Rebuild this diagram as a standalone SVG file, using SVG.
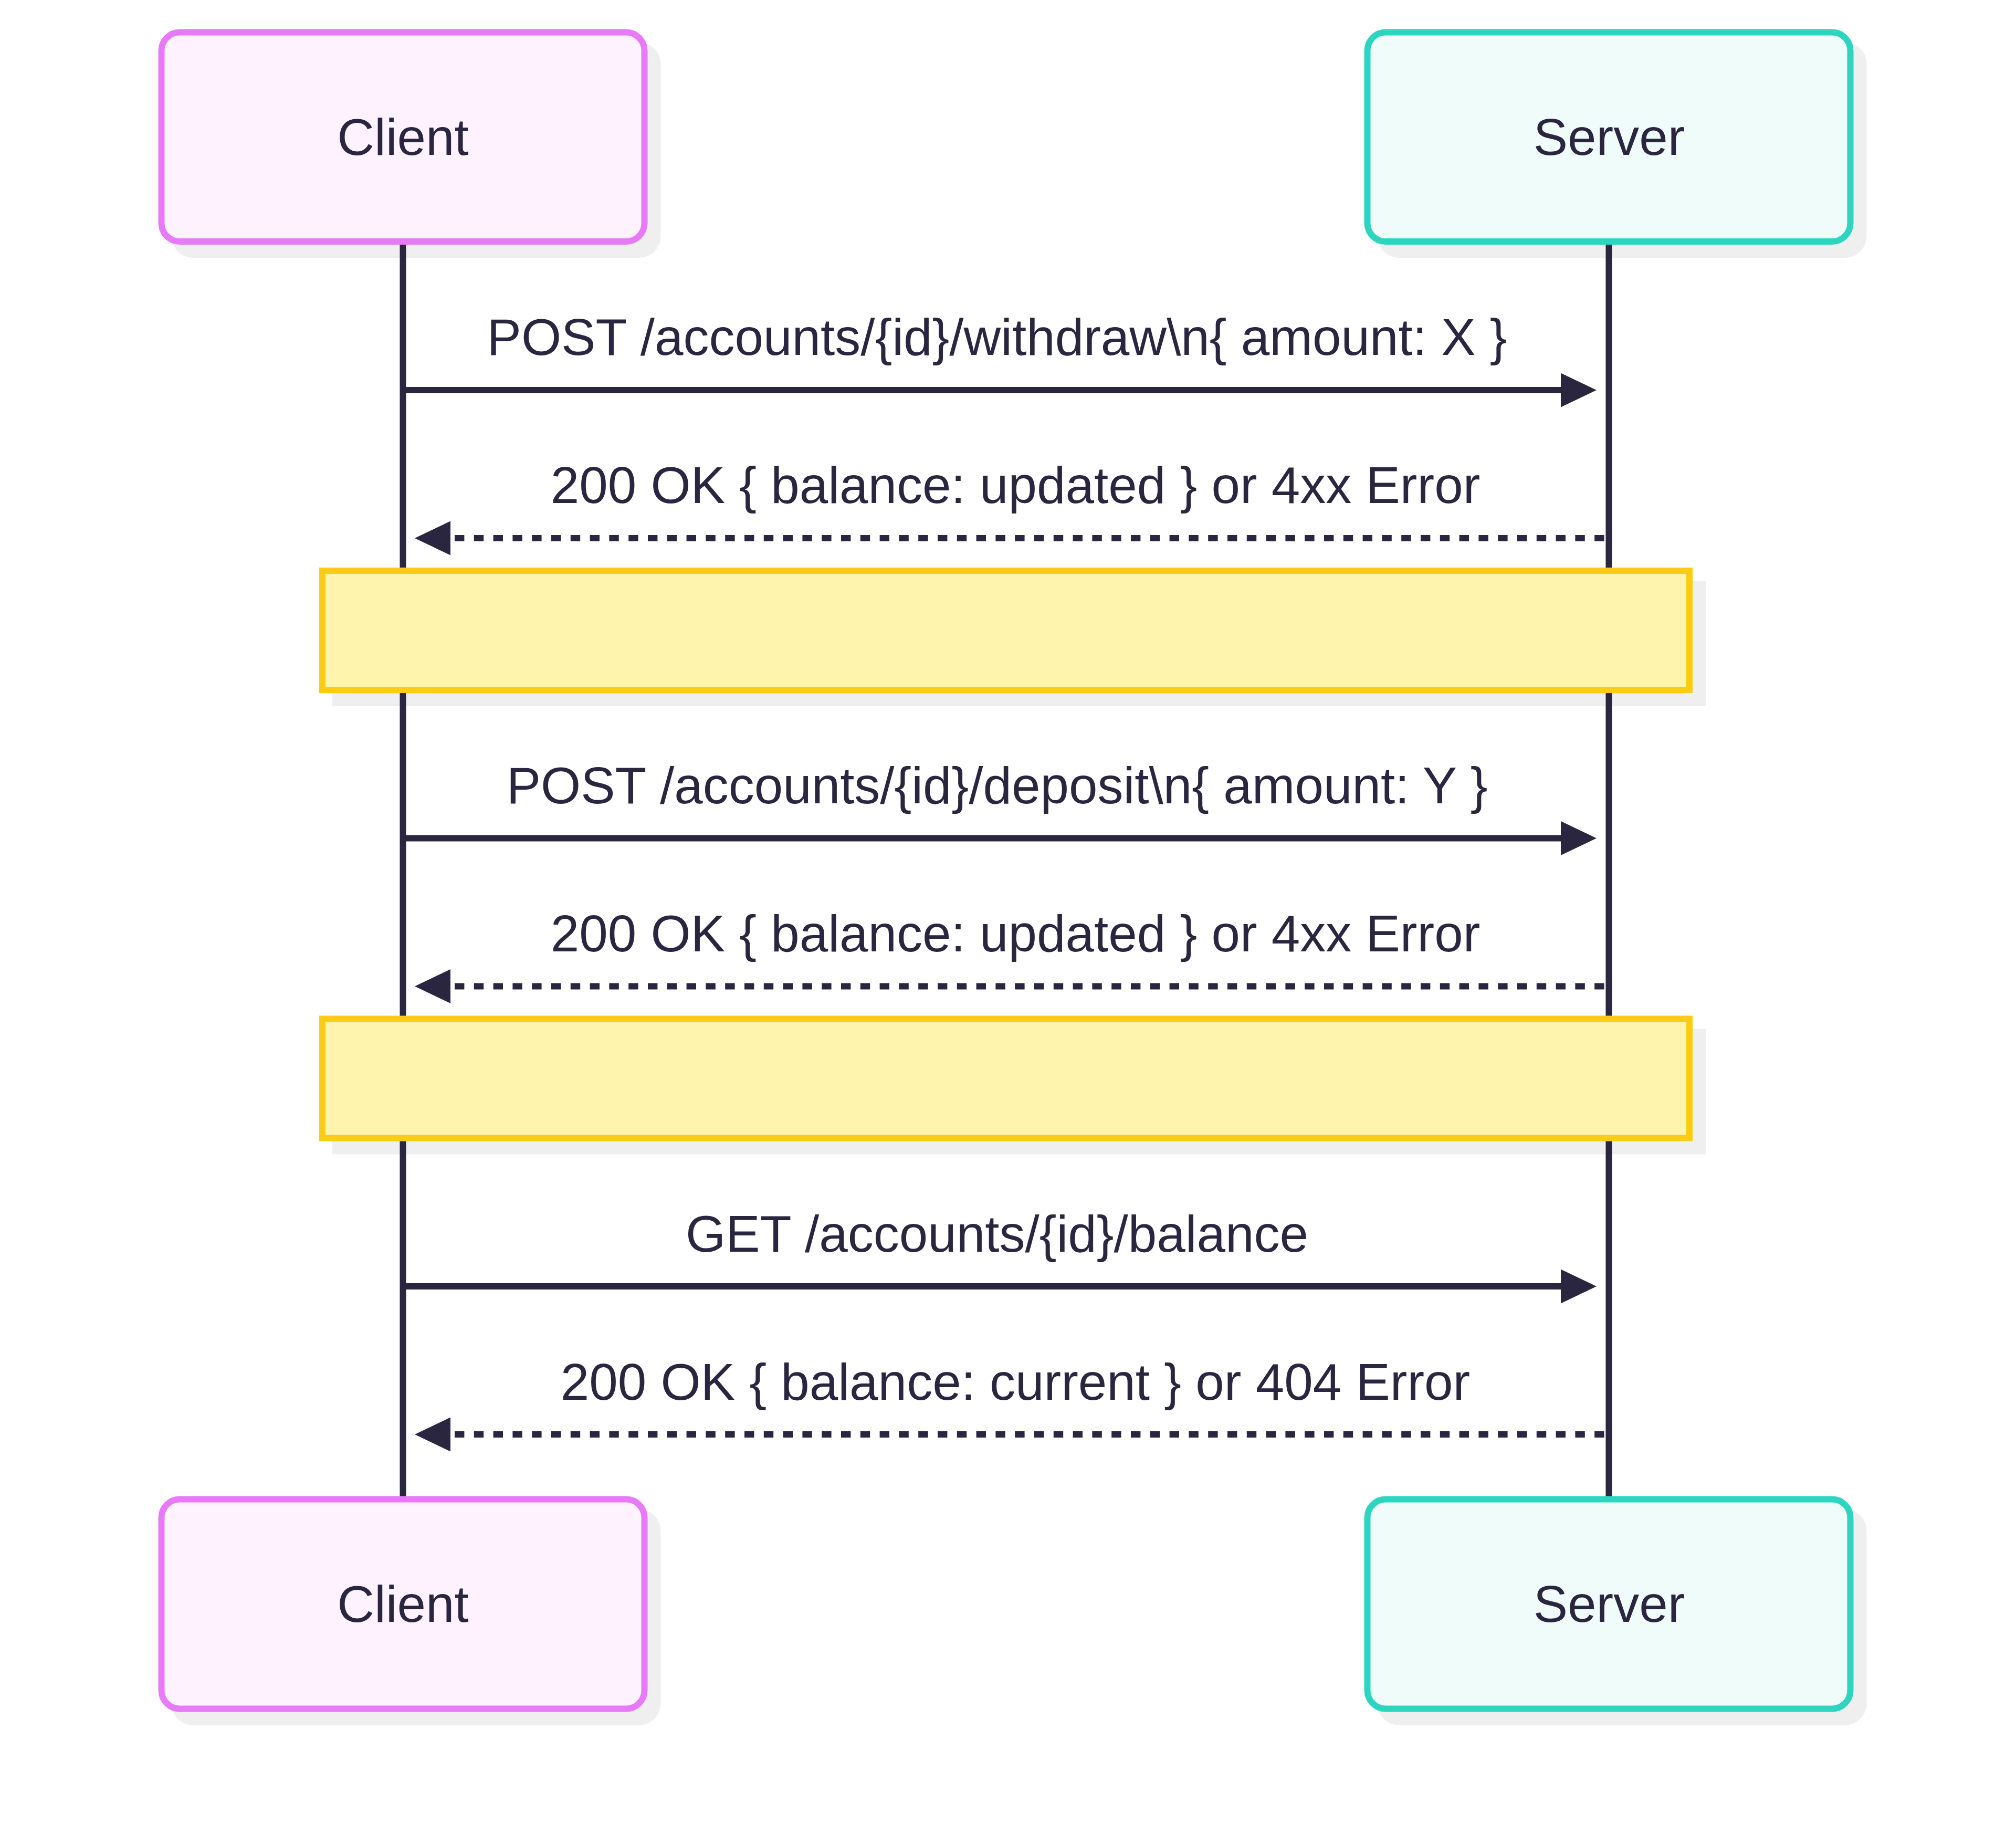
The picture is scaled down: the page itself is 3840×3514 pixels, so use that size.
<svg xmlns="http://www.w3.org/2000/svg" width="3840" height="3514" viewBox="0 0 3840 3514">
  <style>
    .shadow { fill: #efefef; stroke: none; }
    .client { fill: #fdf2fe; stroke: #e879f9; stroke-width: 12; }
    .server { fill: #effcf9; stroke: #2dd4bf; stroke-width: 12; }
    .note { fill: #fef4ad; stroke: #facc15; stroke-width: 12; }
    .lifeline { stroke: #2b2640; stroke-width: 12; fill: none; }
    .msg { stroke: #2b2640; stroke-width: 12; fill: none; }
    .dashed { stroke-dasharray: 18.4 18.4; stroke-dashoffset: 10.6; }
    .label { font-family: "Liberation Sans", Arial, Helvetica, sans-serif; font-size: 98px; fill: #2b2640; text-anchor: middle; }
  </style>
  <defs>
    <marker id="arrow" viewBox="0 0 68 65" markerUnits="userSpaceOnUse" markerWidth="68" markerHeight="65" refX="55" refY="32.5" orient="auto-start-reverse">
      <path d="M0,0 L68,32.5 L0,65 Z" fill="#2b2640"/>
    </marker>
  </defs>
  <rect width="3840" height="3514" fill="#ffffff"/>

  <g id="shadows">
    <rect class="shadow" x="326.5" y="80.5" width="932" height="410.5" rx="41"/>
    <rect class="shadow" x="2623.5" y="80.5" width="932" height="410.5" rx="41"/>
    <rect class="shadow" x="633" y="1106" width="2616" height="239"/>
    <rect class="shadow" x="633" y="1959.5" width="2616" height="239"/>
    <rect class="shadow" x="326.5" y="2874.5" width="932" height="411" rx="41"/>
    <rect class="shadow" x="2623.5" y="2874.5" width="932" height="411" rx="41"/>
  </g>

  <g id="connectors">
    <line class="lifeline" x1="767.5" y1="460" x2="767.5" y2="2855.5"/>
    <line class="lifeline" x1="3064.5" y1="460" x2="3064.5" y2="2855.5"/>

    <path class="msg" d="M767.5,743 H3028" marker-end="url(#arrow)"/>
    <text class="label" x="1899" y="676">POST /accounts/{id}/withdraw\n{ amount: X }</text>

    <path class="msg dashed" d="M803,1025 H3064.5" marker-start="url(#arrow)"/>
    <text class="label" x="1934" y="958">200 OK { balance: updated } or 4xx Error</text>

    <path class="msg" d="M767.5,1596.5 H3028" marker-end="url(#arrow)"/>
    <text class="label" x="1899" y="1529.5">POST /accounts/{id}/deposit\n{ amount: Y }</text>

    <path class="msg dashed" d="M803,1878.5 H3064.5" marker-start="url(#arrow)"/>
    <text class="label" x="1934" y="1811.5">200 OK { balance: updated } or 4xx Error</text>

    <path class="msg" d="M767.5,2450 H3028" marker-end="url(#arrow)"/>
    <text class="label" x="1899" y="2384">GET /accounts/{id}/balance</text>

    <path class="msg dashed" d="M803,2732 H3064.5" marker-start="url(#arrow)"/>
    <text class="label" x="1934" y="2666">200 OK { balance: current } or 404 Error</text>
  </g>

  <g id="client-top">
    <rect class="client" x="307.5" y="61.5" width="920" height="398.5" rx="35"/>
    <text class="label" x="767.5" y="295">Client</text>
  </g>
  <g id="server-top">
    <rect class="server" x="2604.5" y="61.5" width="920" height="398.5" rx="35"/>
    <text class="label" x="3065" y="295">Server</text>
  </g>

  <g id="note-1">
    <rect class="note" x="614" y="1087" width="2604" height="227"/>
  </g>
  <g id="note-2">
    <rect class="note" x="614" y="1940.5" width="2604" height="227"/>
  </g>

  <g id="client-bottom">
    <rect class="client" x="307.5" y="2855.5" width="920" height="399" rx="35"/>
    <text class="label" x="767.5" y="3088.5">Client</text>
  </g>
  <g id="server-bottom">
    <rect class="server" x="2604.5" y="2855.5" width="920" height="399" rx="35"/>
    <text class="label" x="3065" y="3088.5">Server</text>
  </g>
</svg>
